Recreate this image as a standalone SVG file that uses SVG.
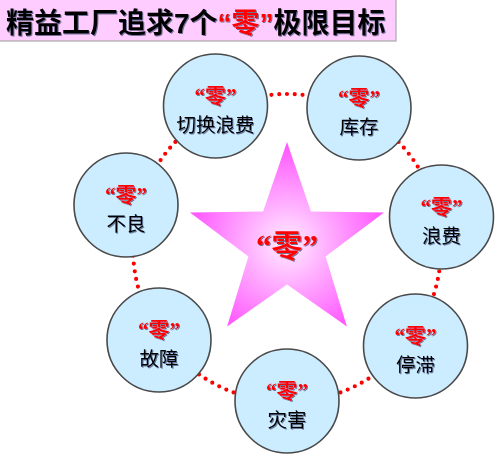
<svg xmlns="http://www.w3.org/2000/svg" width="500" height="457" viewBox="0 0 500 457">
<defs>
<radialGradient id="starGrad" gradientUnits="userSpaceOnUse" cx="287" cy="244" r="100">
<stop offset="0" stop-color="#FFEEFF"/>
<stop offset="0.45" stop-color="#FFA8FF"/>
<stop offset="1" stop-color="#FF55FF"/>
</radialGradient>
<filter id="sh" x="-10%" y="-10%" width="130%" height="140%">
<feDropShadow dx="1" dy="1" stdDeviation="0.3" flood-color="#3A4A70" flood-opacity="0.7"/>
</filter>
</defs>
<style>
.node circle{fill:#CCECFF;stroke:#4A4A4A;stroke-width:1.6}
.zero{font-family:"Liberation Serif","Noto Sans CJK SC",serif;font-weight:bold;font-size:21px;fill:#FF0000;text-anchor:middle;filter:url(#sh)}
.lbl{font-family:"Noto Sans CJK SC",sans-serif;font-size:19.5px;fill:#000;text-anchor:middle;filter:url(#sh)}
.ring{fill:none;stroke:#FF0000;stroke-width:4.2;stroke-linecap:round;stroke-dasharray:0 7.8}
</style>
<rect width="500" height="457" fill="#FFFFFF"/>
<g id="title">
<rect x="-1" y="-1" width="397" height="42" fill="#FFCCFF" stroke="#A8A8A8" stroke-width="1.2"/>
<text x="6" y="33" font-family="Liberation Sans,'Noto Sans CJK SC',sans-serif" font-size="28" font-weight="bold" fill="#000" filter="url(#sh)">精益工厂追求7个<tspan fill="#FF0000">“零”</tspan>极限目标</text>
</g>
<g id="connectors">
<circle class="ring" cx="287" cy="248" r="154"/>
</g>
<g id="star">
<polygon points="287,142 310.9,211.6 384,212.5 325.6,256.6 346.9,326.5 287,284.5 227.1,326.5 248.4,256.6 190,212.5 263.1,211.6" fill="url(#starGrad)"/>
<text x="287" y="257" font-family="Liberation Serif,'Noto Sans CJK SC',serif" font-size="31" font-weight="bold" fill="#FF0000" text-anchor="middle" filter="url(#sh)">“零”</text>
</g>
<g id="node-qiehuan" class="node">
<circle cx="215.5" cy="106" r="52"/>
<text class="zero" x="215.5" y="103">“零”</text>
<text class="lbl" x="215.5" y="132">切换浪费</text>
</g>
<g id="node-kucun" class="node">
<circle cx="359" cy="108" r="52"/>
<text class="zero" x="359" y="105">“零”</text>
<text class="lbl" x="359" y="134">库存</text>
</g>
<g id="node-langfei" class="node">
<circle cx="441.5" cy="217" r="52"/>
<text class="zero" x="441.5" y="214">“零”</text>
<text class="lbl" x="441.5" y="243">浪费</text>
</g>
<g id="node-tingzhi" class="node">
<circle cx="415.5" cy="346" r="52"/>
<text class="zero" x="415.5" y="343">“零”</text>
<text class="lbl" x="415.5" y="372">停滞</text>
</g>
<g id="node-zaihai" class="node">
<circle cx="287" cy="401" r="52"/>
<text class="zero" x="287" y="398">“零”</text>
<text class="lbl" x="287" y="427">灾害</text>
</g>
<g id="node-guzhang" class="node">
<circle cx="159" cy="340" r="52"/>
<text class="zero" x="159" y="337">“零”</text>
<text class="lbl" x="159" y="366">故障</text>
</g>
<g id="node-buliang" class="node">
<circle cx="126" cy="205" r="52"/>
<text class="zero" x="126" y="202">“零”</text>
<text class="lbl" x="126" y="231">不良</text>
</g>
</svg>
